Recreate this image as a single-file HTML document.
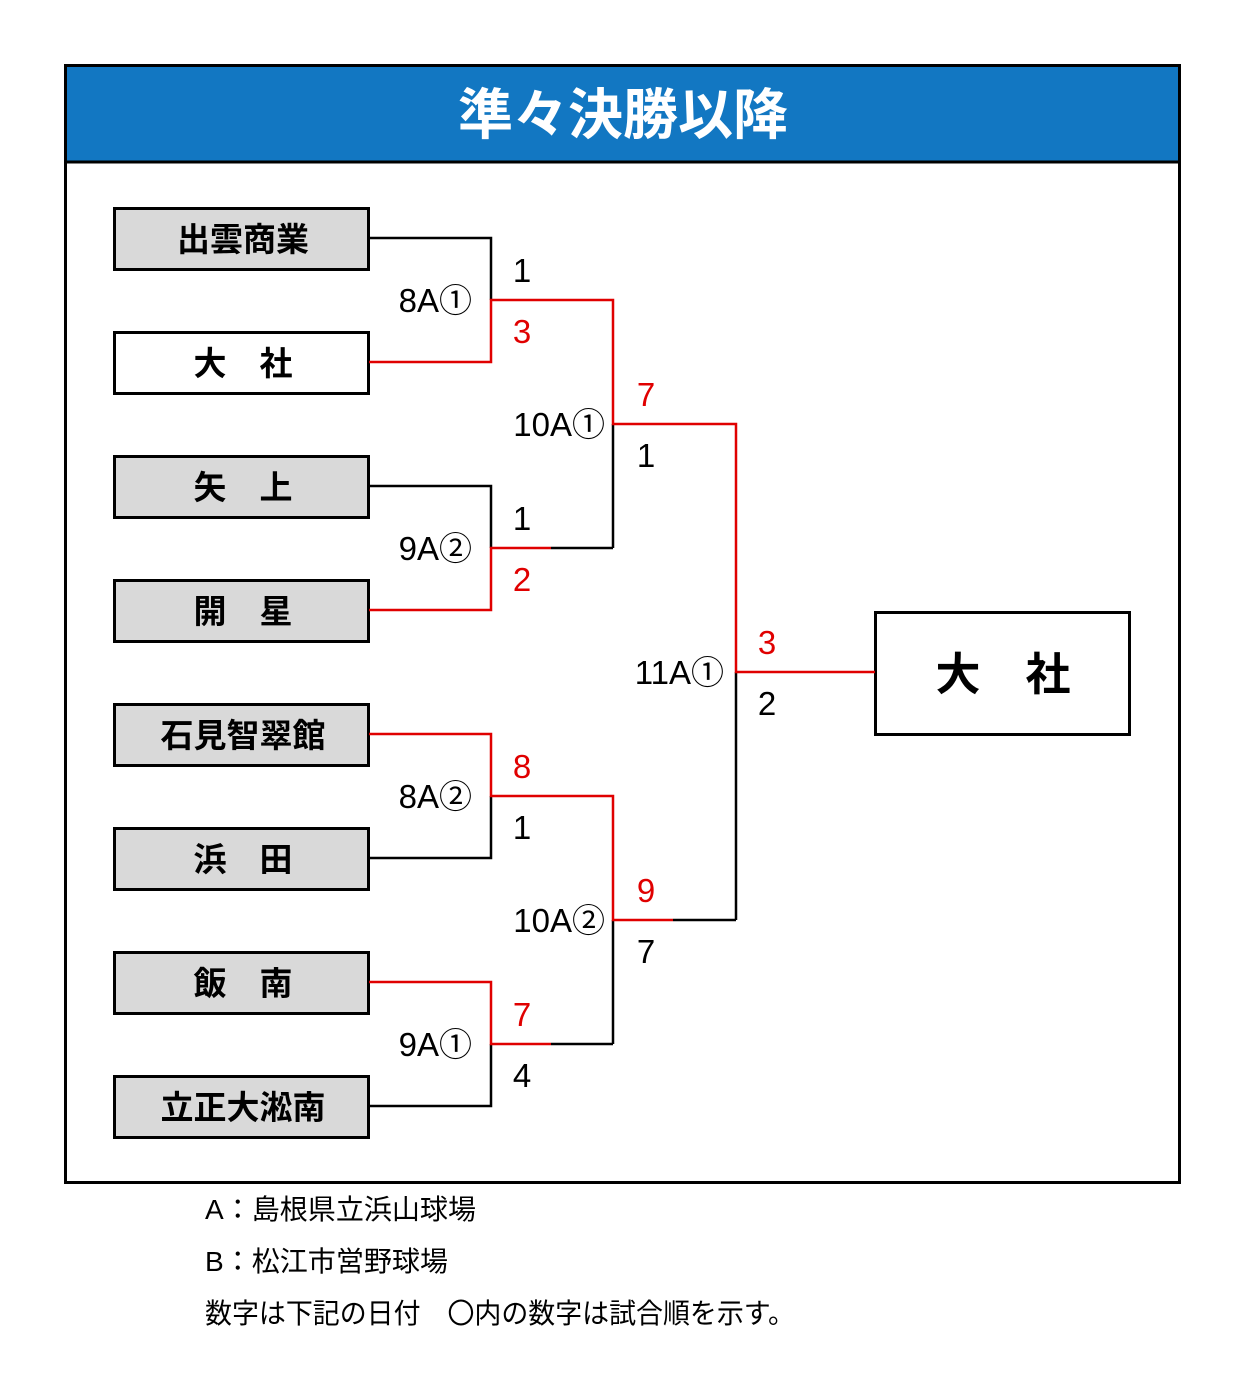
<!DOCTYPE html>
<html><head><meta charset="utf-8"><style>
html,body{margin:0;padding:0;background:#fff;}
svg{display:block;}
text{font-family:"Liberation Sans","Noto Sans CJK JP",sans-serif;}
</style></head><body>
<svg width="1248" height="1386" viewBox="0 0 1248 1386" xmlns="http://www.w3.org/2000/svg">
<rect x="0" y="0" width="1248" height="1386" fill="#fff"/>
<rect x="65.5" y="65.5" width="1114" height="1117" fill="#fff" stroke="#000" stroke-width="3"/>
<rect x="67" y="67" width="1111" height="94" fill="#1277c2"/>
<line x1="65" y1="162" x2="1180" y2="162" stroke="#000" stroke-width="3"/>
<text x="623" y="134" font-size="55" font-weight="bold" fill="#fff" text-anchor="middle">準々決勝以降</text>

<g stroke="#000" stroke-width="3">
<rect x="114.5" y="208.5" width="254" height="61" fill="#d9d9d9"/>
<rect x="114.5" y="332.5" width="254" height="61" fill="#fff"/>
<rect x="114.5" y="456.5" width="254" height="61" fill="#d9d9d9"/>
<rect x="114.5" y="580.5" width="254" height="61" fill="#d9d9d9"/>
<rect x="114.5" y="704.5" width="254" height="61" fill="#d9d9d9"/>
<rect x="114.5" y="828.5" width="254" height="61" fill="#d9d9d9"/>
<rect x="114.5" y="952.5" width="254" height="61" fill="#d9d9d9"/>
<rect x="114.5" y="1076.5" width="254" height="61" fill="#d9d9d9"/>
<rect x="875.5" y="612.5" width="254" height="122" fill="#fff"/>
</g>
<g font-size="33" font-weight="bold" fill="#000" text-anchor="middle">
<text x="243" y="251">出雲商業</text>
<text x="243" y="375">大　社</text>
<text x="243" y="499">矢　上</text>
<text x="243" y="623">開　星</text>
<text x="243" y="747">石見智翠館</text>
<text x="243" y="871">浜　田</text>
<text x="243" y="995">飯　南</text>
<text x="243" y="1119">立正大淞南</text>
<text x="1003" y="690" font-size="45">大　社</text>
</g>

<g fill="none" stroke-width="2.5">
<g stroke="#000">
<polyline points="369,238 491,238 491,300"/>
<polyline points="369,486 491,486 491,548"/>
<line x1="551" y1="548" x2="613" y2="548"/>
<line x1="613" y1="424" x2="613" y2="548"/>
<polyline points="369,858 491,858 491,796"/>
<polyline points="369,1106 491,1106 491,1044"/>
<line x1="551" y1="1044" x2="613" y2="1044"/>
<line x1="613" y1="920" x2="613" y2="1044"/>
<line x1="673" y1="920" x2="736" y2="920"/>
<line x1="736" y1="672" x2="736" y2="920"/>
</g>
<g stroke="#e00000">
<polyline points="369,362 491,362 491,300 613,300 613,424 736,424 736,672 875,672"/>
<polyline points="369,610 491,610 491,548 551,548"/>
<polyline points="369,734 491,734 491,796 613,796 613,920 673,920"/>
<polyline points="369,982 491,982 491,1044 551,1044"/>
</g>
</g>

<g font-size="33" fill="#000">
<g text-anchor="end">
<text x="472" y="312">8A①</text>
<text x="605" y="436">10A①</text>
<text x="472" y="560">9A②</text>
<text x="724" y="684">11A①</text>
<text x="472" y="808">8A②</text>
<text x="605" y="932">10A②</text>
<text x="472" y="1056">9A①</text>
</g>
<g text-anchor="middle">
<text x="522" y="282">1</text>
<text x="522" y="343" fill="#e00000">3</text>
<text x="646" y="406" fill="#e00000">7</text>
<text x="646" y="467">1</text>
<text x="522" y="530">1</text>
<text x="522" y="591" fill="#e00000">2</text>
<text x="767" y="654" fill="#e00000">3</text>
<text x="767" y="715">2</text>
<text x="522" y="778" fill="#e00000">8</text>
<text x="522" y="839">1</text>
<text x="646" y="902" fill="#e00000">9</text>
<text x="646" y="963">7</text>
<text x="522" y="1026" fill="#e00000">7</text>
<text x="522" y="1087">4</text>
</g>
</g>

<g font-size="28" fill="#000">
<text x="205" y="1219" textLength="271" lengthAdjust="spacingAndGlyphs">A：島根県立浜山球場</text>
<text x="205" y="1271" textLength="243" lengthAdjust="spacingAndGlyphs">B：松江市営野球場</text>
<text x="205" y="1323" textLength="590" lengthAdjust="spacingAndGlyphs">数字は下記の日付　〇内の数字は試合順を示す。</text>
</g>
</svg>
</body></html>
